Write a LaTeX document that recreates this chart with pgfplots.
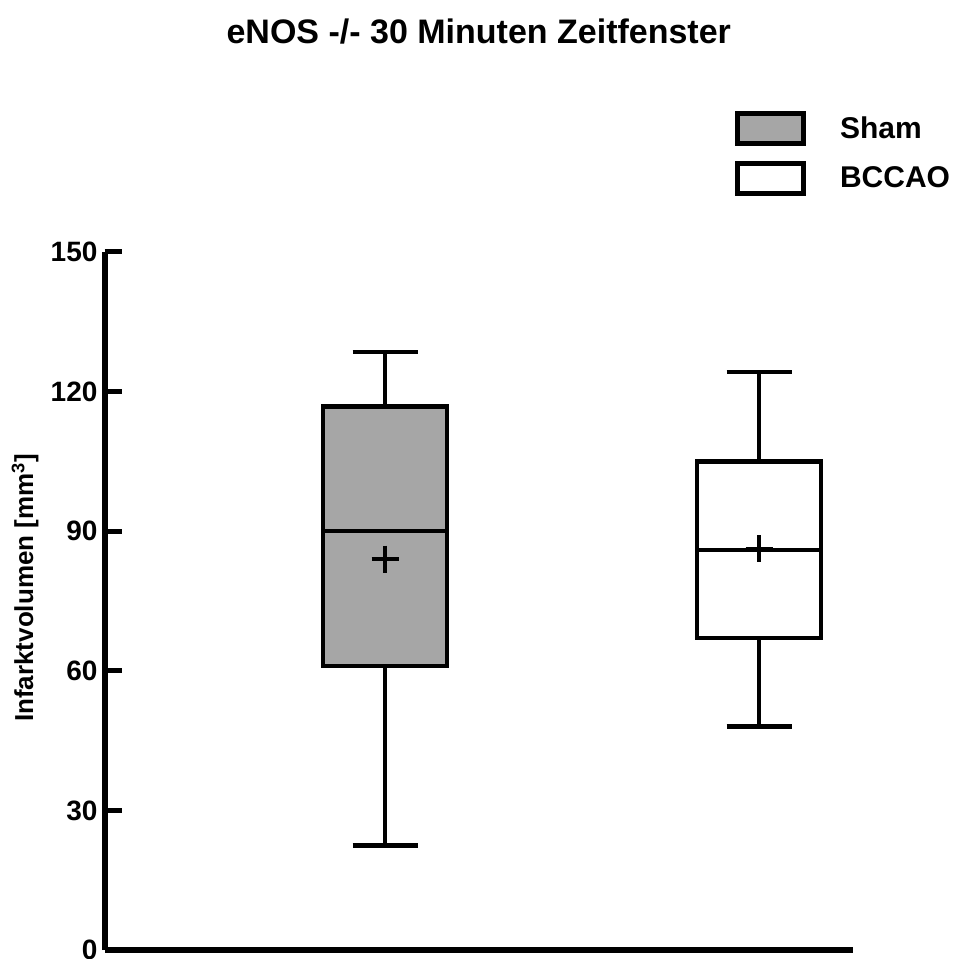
\documentclass[border=0pt]{standalone}
\usepackage{pgfplots}
\pgfplotsset{compat=1.18}
\usepackage{fontspec}
\setmainfont{Liberation Sans}
\definecolor{boxgray}{RGB}{166,166,166}
\begin{document}
\begin{tikzpicture}
\path[use as bounding box] (0,0) rectangle (481pt,479pt);
\begin{axis}[
  at={(52.25pt,4pt)}, anchor=south west,
  scale only axis, width=374.25pt, height=349pt,
  xmin=0, xmax=748.5, ymin=0, ymax=150,
  axis x line=bottom, axis y line=left,
  axis line style={line width=3pt, -, black},
  xtick=\empty,
  ytick={0,30,60,90,120,150},
  tick align=inside,
  major tick length=8.5pt,
  ytick style={line width=2.5pt, black},
  /pgf/number format/assume math mode=true,
  yticklabel style={font=\fontsize{14}{14}\selectfont\bfseries},
  every axis y label/.style={at={(axis description cs:-0.106,0.519)}, rotate=90, anchor=center, font=\fontsize{13}{13}\selectfont\bfseries},
  ylabel={Infarktvolumen [mm\textsuperscript{3}]},
  every axis title/.style={at={(axis description cs:0.5,1.298)}, anchor=base, font=\fontsize{17}{17}\selectfont\bfseries},
  title={eNOS -/- 30 Minuten Zeitfenster},
  legend style={draw=none, fill=none, at={(0.8424,1.2015)}, anchor=north west, inner sep=0pt, outer sep=0pt, row sep=7.5pt, font=\fontsize{15}{15}\selectfont\bfseries, nodes={inner sep=0pt}, /tikz/every odd column/.append style={column sep=17pt}},
  legend cell align=left,
  clip=false,
  wl/.style={draw=black, solid, mark=none, line width=2.2pt, line join=miter},
]
% Sham box (centre 280.5, box 218.5--342.5, caps 248--313)
\addplot[wl, fill=boxgray] coordinates {(218.5,61) (342.5,61) (342.5,116.8) (218.5,116.8)} -- cycle;
\addplot[wl] coordinates {(218.5,90) (342.5,90)};
\addplot[wl] coordinates {(280.5,116.8) (280.5,128.5)};
\addplot[wl] coordinates {(248,128.5) (313,128.5)};
\addplot[wl] coordinates {(280.5,61) (280.5,22.5)};
\addplot[wl] coordinates {(248,22.5) (313,22.5)};
% BCCAO box (centre 654.5, box 592.5--716.5, caps 622--687)
\addplot[wl, fill=white] coordinates {(592.5,67) (716.5,67) (716.5,105) (592.5,105)} -- cycle;
\addplot[wl] coordinates {(592.5,86) (716.5,86)};
\addplot[wl] coordinates {(654.5,105) (654.5,124.2)};
\addplot[wl] coordinates {(622,124.2) (687,124.2)};
\addplot[wl] coordinates {(654.5,67) (654.5,48)};
\addplot[wl] coordinates {(622,48) (687,48)};
% means
\addplot[only marks, mark=+, mark size=6.75pt, line width=1.75pt, black] coordinates {(280.5,84) (654.5,86.2)};
\addlegendimage{legend image code/.code={\draw[line width=2.5pt, draw=black, fill=boxgray] (0pt,-7.5pt) rectangle (33pt,7.5pt);}}
\addlegendimage{legend image code/.code={\draw[line width=2.5pt, draw=black, fill=white] (0pt,-7.5pt) rectangle (33pt,7.5pt);}}
\legend{,,,,,,,,,,,,,Sham,BCCAO}
\end{axis}
\end{tikzpicture}
\end{document}
